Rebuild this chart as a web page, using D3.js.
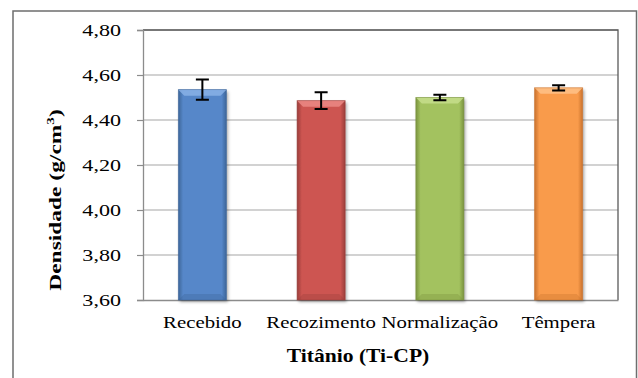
<!DOCTYPE html>
<html><head><meta charset="utf-8">
<script src="https://cdn.jsdelivr.net/npm/d3@7"></script>
<style>body{margin:0;background:#fff}svg{display:block}</style>
</head><body>
<svg id="c" width="638" height="378"></svg>
<script>
const categories = ["Recebido", "Recozimento", "Normalização", "Têmpera"];
const values = [4.535, 4.486, 4.50, 4.543];
const errors = [0.045, 0.037, 0.012, 0.012];
const yTicks = [3.60, 3.80, 4.00, 4.20, 4.40, 4.60, 4.80];
const colors = ["#5687C9", "#CD5551", "#A3C25F", "#F99B4B"];
const darks = ["#3D6598", "#9A3E3B", "#7A933F", "#C9722E"];
const lights = ["#8CB4E8", "#EE8C88", "#C8E08E", "#FFC48C"];

const svg = d3.select("#c");
const m = {l: 143, r: 618, t: 30, b: 300};
const x = d3.scaleBand().domain(categories).range([m.l, m.r]).padding(0);
const y = d3.scaleLinear().domain([3.6, 4.8]).range([m.b, m.t]);
const fmt = v => v.toFixed(2).replace(".", ",");
const FONT = '"Liberation Serif"';

// outer border
svg.append("rect").attr("x", 13).attr("y", 11).attr("width", 623.5).attr("height", 380)
  .attr("fill", "none").attr("stroke", "#6e6e6e").attr("stroke-width", 1.5);

const defs = svg.append("defs");
const f = defs.append("filter").attr("id", "sh").attr("x", "-20%").attr("y", "-20%").attr("width", "150%").attr("height", "150%");
f.append("feDropShadow").attr("dx", 1.5).attr("dy", 2).attr("stdDeviation", 1.8).attr("flood-color", "#000").attr("flood-opacity", 0.35);

categories.forEach((c, i) => {
  const g = defs.append("linearGradient").attr("id", "g" + i).attr("x1", 0).attr("x2", 1).attr("y1", 0).attr("y2", 0);
  g.append("stop").attr("offset", "0%").attr("stop-color", darks[i]);
  g.append("stop").attr("offset", "10%").attr("stop-color", colors[i]);
  g.append("stop").attr("offset", "90%").attr("stop-color", colors[i]);
  g.append("stop").attr("offset", "100%").attr("stop-color", darks[i]);
});

// gridlines
svg.append("g").selectAll("line").data(yTicks.slice(1)).join("line")
  .attr("x1", m.l).attr("x2", m.r).attr("y1", d => y(d)).attr("y2", d => y(d))
  .attr("stroke", "#a6a6a6").attr("stroke-width", 1.2);

// plot border (top, right)
svg.append("path").attr("d", `M${m.l},${m.t}H${m.r}V${m.b}`).attr("fill", "none")
  .attr("stroke", "#5a5a5a").attr("stroke-width", 1.3);

// y axis
const sy = 1.3;
const ya = svg.append("g").attr("transform", `translate(${m.l},0)`)
  .call(d3.axisLeft(y).tickValues(yTicks).tickFormat(fmt).tickSize(6).tickPadding(22));
ya.attr("font-family", null).attr("font-size", null);
ya.select(".domain").attr("stroke", "#8c8c8c").attr("stroke-width", 1.3);
ya.selectAll(".tick line").attr("stroke", "#8c8c8c").attr("stroke-width", 1.2);
ya.selectAll("text").style("font-family", FONT).attr("font-size", 17).attr("fill", "#000")
  .attr("dy", "0.35em").attr("x", -22 / sy).attr("transform", `scale(${sy},1)`);

// x axis
const sx = 1.3;
const xa = svg.append("g").attr("transform", `translate(0,${m.b})`)
  .call(d3.axisBottom(x).tickSize(0).tickPadding(26));
xa.attr("font-family", null).attr("font-size", null);
xa.select(".domain").attr("stroke", "#8c8c8c").attr("stroke-width", 1.3);
xa.selectAll("text").style("font-family", FONT).attr("font-size", 16).attr("fill", "#000")
  .attr("dy", "0.1em").attr("transform", `scale(${sx},1)`);

// bars
const bw = x.bandwidth() * 0.405;
const bars = svg.append("g").selectAll("g").data(categories).join("g");
bars.each(function(c, i) {
  const gg = d3.select(this);
  const x0 = x(c) + x.bandwidth() / 2 - bw / 2, x1 = x0 + bw;
  const yt = y(values[i]), yb = y(3.6);
  const bv = 6;
  gg.append("rect").attr("x", x0).attr("y", yt).attr("width", bw).attr("height", yb - yt)
    .attr("fill", `url(#g${i})`).attr("filter", "url(#sh)");
  gg.append("path").attr("d", `M${x0},${yt}H${x1}L${x1 - bv},${yt + bv}H${x0 + bv}Z`)
    .attr("fill", lights[i]).attr("opacity", 0.8);
  gg.append("path").attr("d", `M${x0},${yb}H${x1}L${x1 - bv},${yb - bv}H${x0 + bv}Z`)
    .attr("fill", darks[i]).attr("opacity", 0.35);
  gg.append("rect").attr("x", x0).attr("y", yt).attr("width", bw).attr("height", yb - yt)
    .attr("fill", "none").attr("stroke", darks[i]).attr("stroke-width", 0.8).attr("opacity", 0.7);
});

// error bars
const eb = svg.append("g").attr("stroke", "#000").attr("stroke-width", 2).attr("fill", "none");
categories.forEach((c, i) => {
  const cx = x(c) + x.bandwidth() / 2;
  const y1 = y(values[i] + errors[i]), y2 = y(values[i] - errors[i]);
  eb.append("path").attr("d", `M${cx},${y1}V${y2}M${cx - 6.5},${y1}H${cx + 6.5}M${cx - 6.5},${y2}H${cx + 6.5}`);
});

// axis titles
const yt = svg.append("text").attr("transform", "translate(61,200) rotate(-90) scale(1.38,1)")
  .attr("text-anchor", "middle").style("font-family", FONT).style("font-weight", "bold")
  .attr("font-size", 17).attr("fill", "#000");
yt.append("tspan").text("Densidade (g/cm");
yt.append("tspan").attr("font-size", 11).attr("dy", "-7").text("3");
yt.append("tspan").attr("dy", "7").text(")");

svg.append("text").attr("transform", "translate(358,362) scale(1.2,1)").attr("text-anchor", "middle")
  .style("font-family", FONT).style("font-weight", "bold").attr("font-size", 18)
  .attr("fill", "#000").text("Titânio (Ti-CP)");
</script>
</body></html>
